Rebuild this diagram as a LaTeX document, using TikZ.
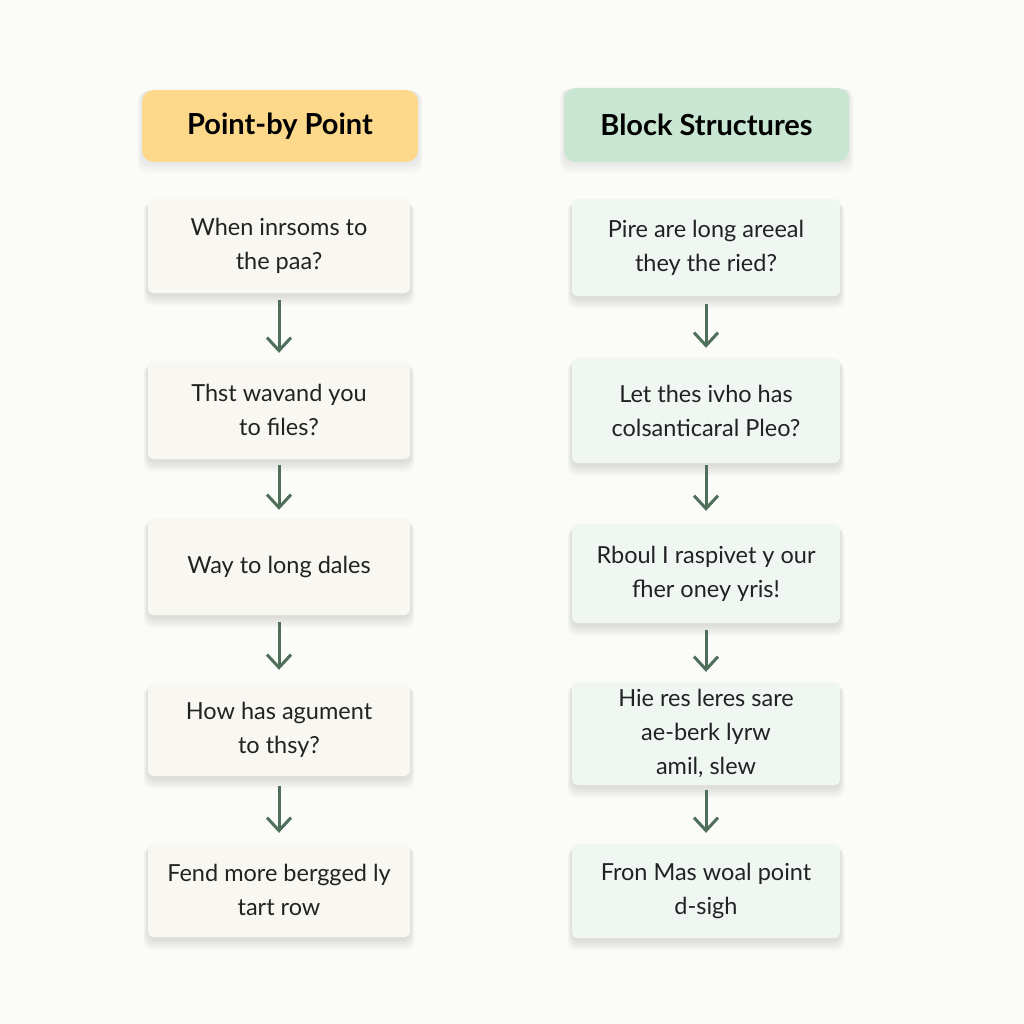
\documentclass[tikz,border=0pt]{standalone}
\usepackage{fontspec}
\setmainfont{Lato}
\usetikzlibrary{arrows.meta,backgrounds}
\pgfdeclarelayer{bottom}
\pgfsetlayers{bottom,background,main}
\definecolor{bg}{HTML}{FBFBF9}
\definecolor{hdrY}{HTML}{FCD98A}
\definecolor{hdrG}{HTML}{C8E6D2}
\definecolor{boxL}{HTML}{F8F7F2}
\definecolor{boxR}{HTML}{F0F6F1}
\definecolor{arr}{HTML}{4F6F5A}
\definecolor{txt}{HTML}{222222}
\newcommand{\softshadow}[3]{%
  \begin{pgfonlayer}{background}
  \foreach \i in {1,...,10}{%
    \fill[black, opacity=#3, rounded corners=9pt]
      ([xshift=-\i*0.45pt, yshift=-\i*0.2pt-#2]#1.north west) rectangle
      ([xshift=\i*0.45pt, yshift=-\i*1.1pt-#2]#1.south east);
  }
  \end{pgfonlayer}}
\begin{document}
\begin{tikzpicture}[x=1pt,y=-1pt,
  hdr/.style={rounded corners=12pt, minimum height=72pt, font=\fontsize{29}{34}\selectfont\bfseries, text=black},
  card/.style={rounded corners=5pt, text=txt, align=center, font=\fontsize{23.5}{34}\selectfont},
  lcard/.style={card, fill=boxL, minimum width=262pt},
  rcard/.style={card, fill=boxR, minimum width=268pt},
  flow/.style={draw=arr, line width=3pt, -{Straight Barb[length=13pt,width=24pt,line width=3pt]}}]
\begin{pgfonlayer}{bottom}
\fill[bg] (0,0) rectangle (1024,1024);
\end{pgfonlayer}
\useasboundingbox (0,0) rectangle (1024,1024);

\node[hdr, fill=hdrY, minimum width=276pt] (hl) at (280,126) {Point-by Point};
\node[hdr, fill=hdrG, minimum width=285pt, minimum height=74pt] (hr) at (706.5,125) {Block Structures};

\node[lcard, minimum height=94pt] (l1) at (279,246) {When inrsoms to\\the paa?};
\node[lcard, minimum height=98pt] (l2) at (279,410) {Thst wavand you\\to files?};
\node[lcard, minimum height=97pt] (l3) at (279,566.5) {Way to long dales};
\node[lcard, minimum height=93pt] (l4) at (279,729.5) {How has agument\\to thsy?};
\node[lcard, minimum height=94pt] (l5) at (279,890) {Fend more bergged ly\\tart row};

\node[rcard, minimum height=97pt] (r1) at (706,247.5) {Pire are long areeal\\they the ried?};
\node[rcard, minimum height=105pt] (r2) at (706,410.5) {Let thes ivho has\\colsanticaral Pleo?};
\node[rcard, minimum height=99pt] (r3) at (706,573.5) {Rboul I raspivet y our\\fher oney yris!};
\node[rcard, minimum height=103pt] (r4) at (706,733.5) {Hie res leres sare\\ae-berk lyrw\\amil, slew};
\node[rcard, minimum height=94pt] (r5) at (706,891) {Fron Mas woal point\\d-sigh};

\foreach \n in {l1,l2,l3,l4,l5,r1,r2,r3,r4,r5}{\softshadow{\n}{2pt}{0.012}}
\softshadow{hl}{0pt}{0.006}
\softshadow{hr}{0pt}{0.006}

\draw[flow] ([yshift=-7pt]l1.south) -- ([yshift=8pt]l2.north);
\draw[flow] ([yshift=-6pt]l2.south) -- ([yshift=8pt]l3.north);
\draw[flow] ([yshift=-7pt]l3.south) -- ([yshift=13pt]l4.north);
\draw[flow] ([yshift=-10pt]l4.south) -- ([yshift=10pt]l5.north);

\draw[flow] ([yshift=-8pt]r1.south) -- ([yshift=10pt]r2.north);
\draw[flow] ([yshift=-2pt]r2.south) -- ([yshift=13pt]r3.north);
\draw[flow] ([yshift=-7pt]r3.south) -- ([yshift=10pt]r4.north);
\draw[flow] ([yshift=-5pt]r4.south) -- ([yshift=11pt]r5.north);
\end{tikzpicture}
\end{document}
